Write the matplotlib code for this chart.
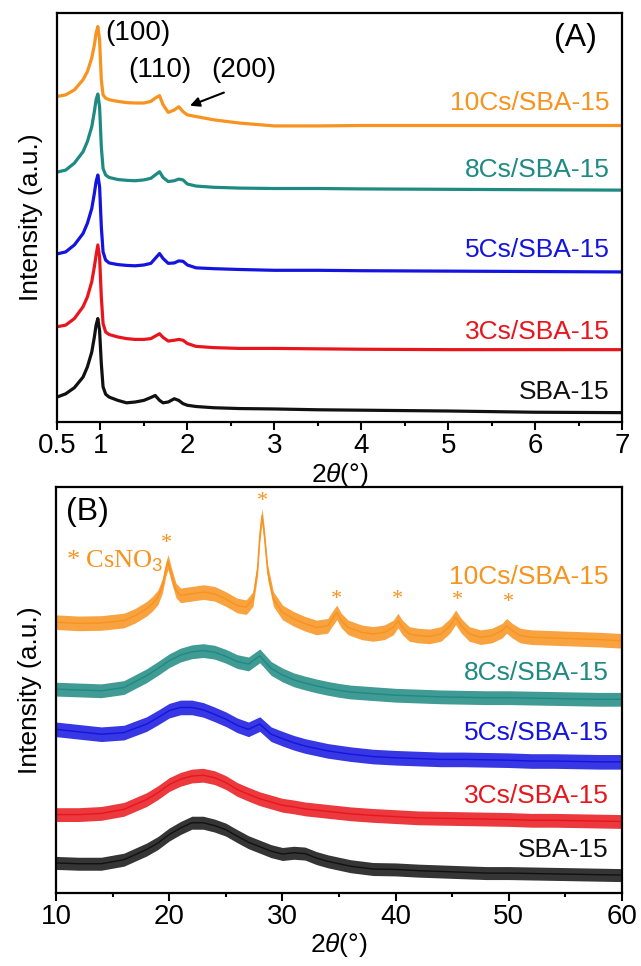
import matplotlib
matplotlib.use("Agg")
import matplotlib.pyplot as plt
import numpy as np

plt.rcParams['font.family'] = ['Liberation Sans', 'DejaVu Sans']
plt.rcParams['mathtext.fontset'] = 'custom'
plt.rcParams['mathtext.rm'] = 'Liberation Sans'
plt.rcParams['mathtext.it'] = 'Liberation Sans:italic'

# ---- panel A: small-angle XRD ----
xa = [0.5, 0.6, 0.7, 0.8, 0.85, 0.9, 0.93, 0.95, 0.97, 0.99, 1.01, 1.03, 1.06, 1.1,
      1.2, 1.3, 1.4, 1.5, 1.58, 1.63, 1.68, 1.72, 1.78, 1.85, 1.9, 1.95, 2.0, 2.1,
      2.3, 2.6, 3.0, 3.5, 4.0, 5.0, 6.0, 7.0]
a_sba15 = [6.1, 6.9, 8.4, 11.0, 13.5, 17.1, 20.8, 23.7, 25.3, 22.4, 14.3, 8.6, 6.8, 6.1,
           5.3, 4.7, 4.9, 5.3, 6.0, 6.5, 5.3, 4.7, 4.9, 5.7, 5.3, 4.5, 4.1, 3.8,
           3.5, 3.3, 3.2, 3.0, 2.9, 2.7, 2.4, 2.3]
a_3cs = [23.3, 23.7, 25.3, 28.2, 30.6, 34.3, 38.0, 40.8, 43.3, 40.4, 30.6, 24.1, 22.0, 21.4,
         20.8, 20.4, 20.2, 20.2, 20.4, 21.0, 21.6, 20.7, 19.8, 20.0, 20.2, 20.0, 19.2, 18.5,
         18.2, 18.0, 18.0, 17.9, 17.8, 17.7, 17.7, 17.7]
a_5cs = [41.1, 41.6, 43.3, 46.1, 48.6, 52.2, 55.9, 58.8, 60.4, 57.6, 47.8, 41.6, 39.6, 38.9,
         38.5, 38.3, 38.2, 38.4, 38.8, 40.0, 41.2, 40.0, 38.8, 38.9, 39.4, 39.3, 38.4, 37.7,
         37.5, 37.3, 37.1, 37.1, 37.0, 36.9, 36.8, 36.7]
a_8cs = [61.1, 61.6, 63.3, 66.1, 68.6, 72.2, 75.9, 78.8, 80.2, 77.1, 67.3, 62.0, 60.4, 59.8,
         59.3, 59.1, 59.0, 59.2, 59.6, 60.4, 61.2, 59.8, 58.8, 59.0, 59.4, 59.2, 58.2, 57.7,
         57.4, 57.2, 57.1, 57.1, 57.0, 56.9, 56.8, 56.7]
a_10cs = [79.6, 80.0, 81.2, 83.7, 85.7, 89.0, 92.2, 95.1, 96.7, 93.5, 83.7, 80.0, 79.2, 78.8,
          78.4, 78.1, 78.0, 78.0, 78.4, 79.2, 79.8, 77.6, 75.7, 76.3, 77.1, 75.9, 75.1, 74.7,
          73.9, 73.1, 72.4, 72.4, 72.5, 72.5, 72.5, 72.5]

# ---- panel B: wide-angle XRD ----
xb = [10, 12, 14, 16, 18, 19, 20, 21, 22, 23, 24, 25, 26, 27, 28, 29, 30, 31, 32, 33,
      34, 35, 36, 38, 40, 42, 44, 46, 48, 50, 52, 54, 56, 58, 60]
b_sba15 = [7.4, 7.2, 7.2, 8.2, 10.7, 12.3, 14.4, 16.0, 17.3, 17.3, 16.6, 15.6, 14.0, 12.5,
           11.4, 10.3, 9.6, 9.9, 9.7, 8.6, 7.8, 7.2, 6.6, 5.9, 5.8, 5.5, 5.3, 5.1, 4.9,
           4.9, 4.8, 4.7, 4.6, 4.5, 4.4]
b_3cs = [19.3, 19.3, 19.6, 20.6, 23.0, 24.7, 26.7, 28.0, 28.8, 29.0, 28.4, 27.2, 25.5, 24.3,
         23.2, 22.4, 21.6, 21.2, 20.7, 20.4, 20.1, 19.8, 19.5, 19.1, 18.8, 18.5, 18.4, 18.3,
         18.2, 18.1, 17.9, 17.9, 17.8, 17.7, 17.6]
b_5cs = [40.3, 39.7, 39.1, 39.5, 41.6, 43.2, 44.9, 45.7, 45.7, 45.1, 44.0, 42.8, 41.3, 40.3,
         41.6, 39.1, 38.0, 37.0, 36.2, 35.6, 35.0, 34.6, 34.2, 33.6, 33.3, 33.1, 32.9, 32.9,
         32.8, 32.7, 32.5, 32.5, 32.4, 32.3, 32.3]
b_8cs = [50.2, 50.0, 49.8, 50.6, 53.5, 55.3, 57.2, 58.6, 59.4, 59.7, 59.3, 58.3, 57.0, 56.4,
         58.4, 55.3, 53.7, 52.5, 51.7, 51.0, 50.4, 49.9, 49.5, 49.1, 48.7, 48.5, 48.3, 48.2,
         48.1, 48.1, 48.0, 47.9, 47.8, 47.7, 47.7]
xb_10cs = [10, 12, 14, 16, 17, 18, 18.5, 19, 19.4, 19.7, 19.9, 20.2, 20.6, 21, 22, 23, 24, 25,
           26, 26.8, 27.4, 27.8, 28.0, 28.2, 28.4, 28.7, 29.2, 30, 31, 32, 33, 34, 34.4, 34.8,
           35.2, 35.8, 37, 38, 39, 39.8, 40.2, 40.6, 41.2, 42, 43, 44, 44.8, 45.3, 45.8, 46.5,
           47.5, 48.5, 49.4, 49.8, 50.3, 51, 52, 54, 56, 58, 60]
b_10cs = [66.7, 66.4, 66.5, 67.1, 68.3, 70.0, 71.2, 72.8, 75.7, 79.8, 81.5, 78.2, 74.5, 73.3,
          73.7, 74.1, 73.7, 72.4, 70.8, 70.4, 72.4, 79.8, 88.1, 93.0, 88.1, 79.0, 72.4, 69.1,
          67.5, 66.3, 65.4, 65.8, 67.5, 69.1, 67.1, 65.4, 64.2, 63.8, 64.2, 65.4, 67.1, 65.4,
          63.8, 63.4, 63.2, 63.8, 65.8, 67.9, 65.8, 63.8, 63.0, 63.4, 64.6, 65.8, 64.6, 63.4,
          63.0, 62.8, 62.6, 62.4, 62.1]
noise_b = [1.6, 1.7, 1.8, 1.7, 1.8]   # half-width of the noisy band

labels = ['SBA-15', '3Cs/SBA-15', '5Cs/SBA-15', '8Cs/SBA-15', '10Cs/SBA-15']
colors = ['#111111', '#E8161C', '#1414E0', '#1E8A82', '#F7931E']
label_y_a = [7.3, 22.0, 42.0, 61.6, 78.0]
label_y_b = [10.7, 23.9, 39.5, 54.3, 77.8]
star_x = [19.8, 28.2, 34.8, 40.2, 45.5, 50.0]
star_y = [86.0, 96.3, 72.3, 72.3, 72.0, 71.6]

fig = plt.figure(figsize=(6.41, 9.66), dpi=100)
axA = fig.add_axes([0.0889, 0.5631, 0.8814, 0.4234])
axB = fig.add_axes([0.0874, 0.0756, 0.8830, 0.4203])

for ys, c in zip([a_sba15, a_3cs, a_5cs, a_8cs, a_10cs], colors):
    axA.plot(xa, ys, color=c, lw=2.3, solid_joinstyle='round')

xb_all = [xb, xb, xb, xb, xb_10cs]
for xs, ys, c, n in zip(xb_all, [b_sba15, b_3cs, b_5cs, b_8cs, b_10cs], colors, noise_b):
    ys = np.array(ys)
    axB.fill_between(xs, ys - n, ys + n, color=c, alpha=0.85, lw=0)
    axB.plot(xs, ys, color=c, lw=1.0)

for lab, c, ya, yb in zip(labels, colors, label_y_a, label_y_b):
    axA.text(6.86, ya, lab, color=c, fontsize=19, ha='right', va='center')
    axB.text(58.8, yb, lab, color=c, fontsize=19, ha='right', va='center')

axA.text(1.05, 95.1, '(100)', fontsize=20, ha='left', va='center')
axA.text(1.32, 86.1, '(110)', fontsize=20, ha='left', va='center')
axA.text(2.27, 86.1, '(200)', fontsize=20, ha='left', va='center')
axA.text(6.71, 93.9, '(A)', fontsize=23, ha='right', va='center')
axA.annotate('', xy=(2.0, 77.1), xytext=(2.45, 80.8),
             arrowprops=dict(arrowstyle='-|>', color='black', lw=1.5, mutation_scale=14))

axB.text(10.9, 93.8, '(B)', fontsize=23, ha='left', va='center')
axB.text(10.9, 80.0, '* CsNO$_3$', fontsize=19, color=colors[4], ha='left',
         va='baseline', family='Liberation Serif')
for sx, sy in zip(star_x, star_y):
    axB.text(sx, sy, '*', fontsize=16, color=colors[4], ha='center', va='center',
             family='Liberation Serif')

axA.set_xlim(0.5, 7)
axA.set_xticks([0.5, 1, 2, 3, 4, 5, 6, 7])
axA.set_xticklabels(['0.5', '1', '2', '3', '4', '5', '6', '7'])
axA.set_xticks(np.arange(1.5, 7, 1.0), minor=True)
axB.set_xlim(10, 60)
axB.set_xticks(np.arange(10, 61, 10))
axB.set_xticks(np.arange(15, 60, 10), minor=True)

for ax in (axA, axB):
    ax.set_ylim(0, 100)
    ax.set_yticks([])
    ax.set_ylabel('Intensity (a.u.)', fontsize=19, labelpad=10)
    ax.set_xlabel(r'2$\it{\theta}$(°)', fontsize=19, labelpad=1)
    ax.tick_params(axis='x', which='major', direction='out', length=6, width=1.5,
                   labelsize=20, pad=2)
    ax.tick_params(axis='x', which='minor', direction='out', length=3, width=1.5)
    for sp in ax.spines.values():
        sp.set_linewidth(1.6)

fig.savefig('out.png', dpi=100)
